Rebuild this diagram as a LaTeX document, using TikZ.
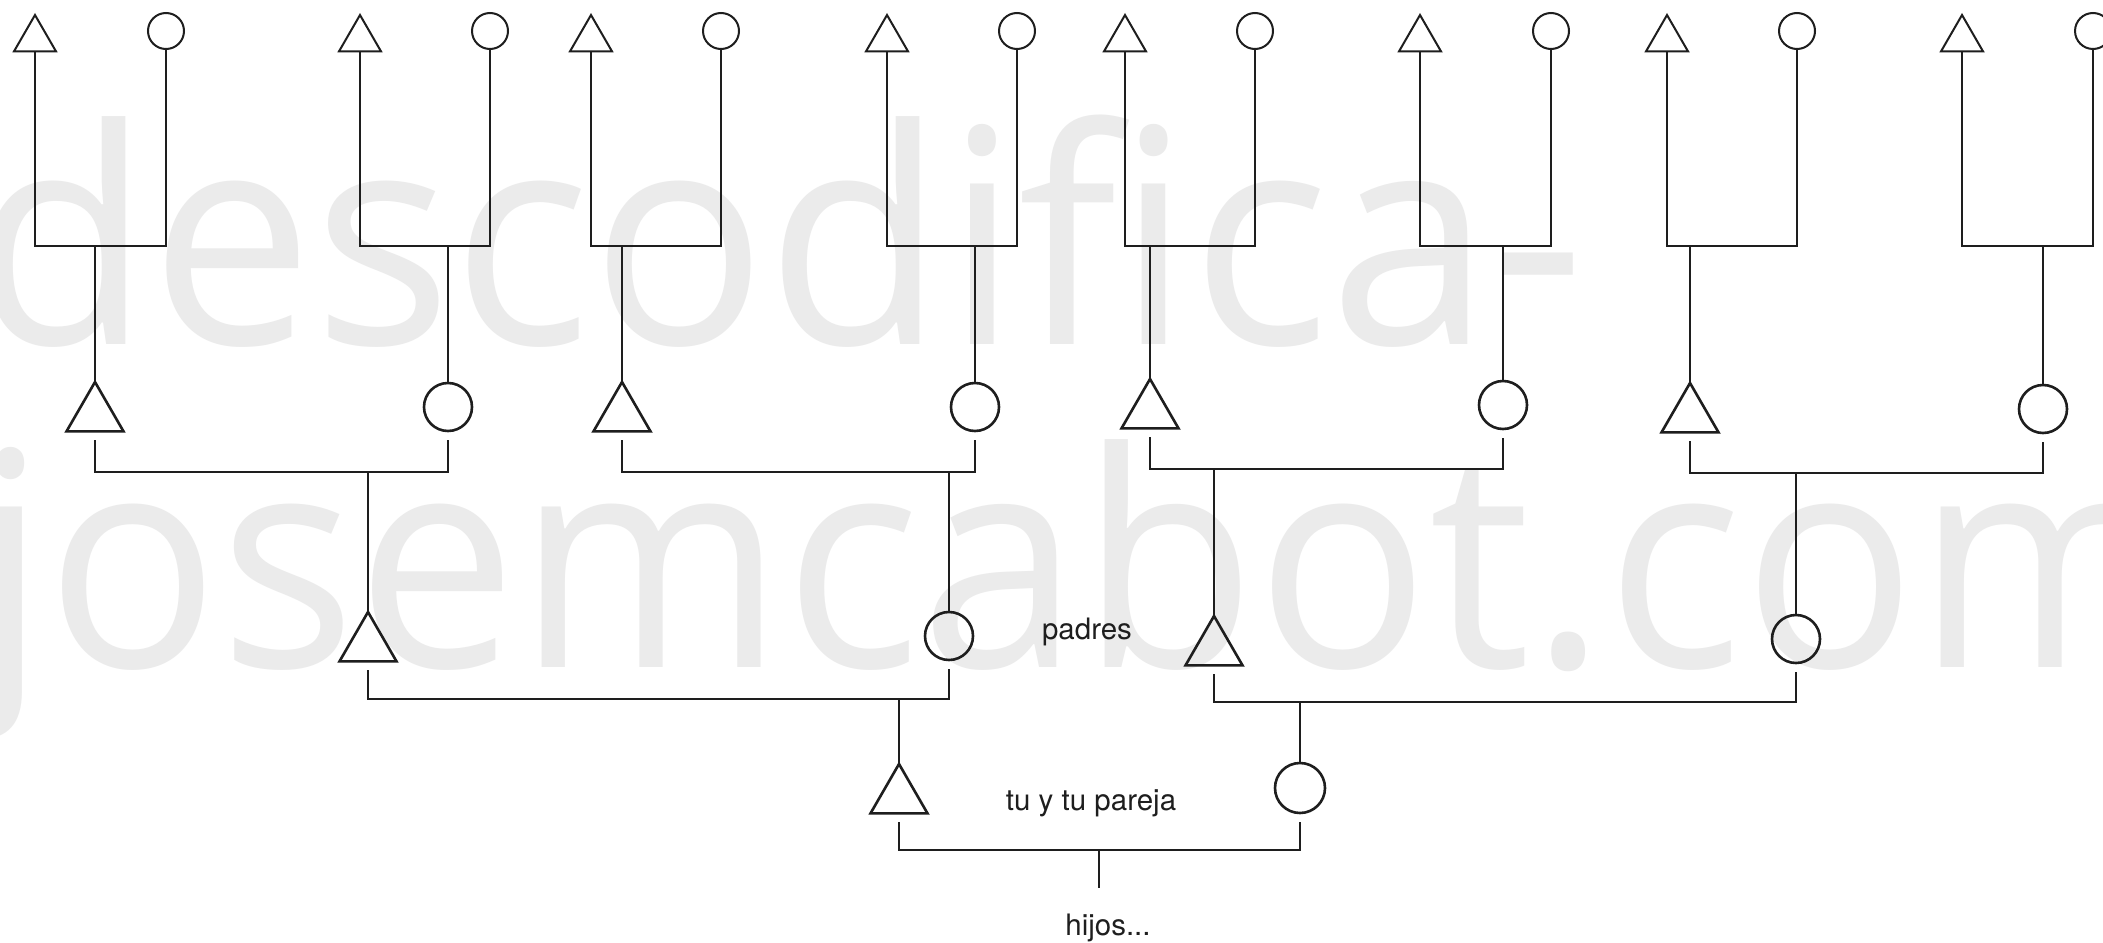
\documentclass[tikz,border=0pt]{standalone}
\usepackage{fontspec}
\setmainfont{TeX Gyre Heros}
\newfontfamily\wmfont{Open Sans}
\usetikzlibrary{shapes.geometric,calc}
\definecolor{wm}{RGB}{235,235,235}
\definecolor{ink}{RGB}{30,30,30}
\tikzset{
 male4/.style={regular polygon, regular polygon sides=3, draw=ink, line width=2pt, minimum size=48.5pt, inner sep=0pt, outer sep=0pt},
 fem4/.style={circle, draw=ink, line width=2pt, minimum size=36pt, inner sep=0pt, outer sep=0pt},
 male/.style={regular polygon, regular polygon sides=3, draw=ink, line width=2.6pt, minimum size=65.8pt, inner sep=0pt, outer sep=0pt},
 fem/.style={circle, draw=ink, line width=2.6pt, minimum size=48pt, inner sep=0pt, outer sep=0pt},
 link/.style={draw=ink, line width=1.8pt},
 lbl/.style={anchor=base, inner sep=0pt, text=ink, font=\fontsize{29.5}{30}\selectfont},
 wmark/.style={anchor=base west, inner sep=0pt, text=wm, font=\wmfont\fontsize{300}{300}\selectfont}
}
\begin{document}
\begin{tikzpicture}[x=1pt,y=-1pt]
\useasboundingbox (0,0) rectangle (2103,942);
\fill[white] (0,0) rectangle (2103,942);
\clip (0,0) rectangle (2103,942);
% watermark
\node[wmark] (wm1) at (-28,344) {\scalebox{0.97}[1]{descodifica-}};
\node[wmark] (wm2) at (-26,667) {\scalebox{0.956}[1]{josemcabot.com}};
% generation 4 (top)
\foreach \i/\tx/\cx/\mx in {1/35/166/95, 2/360/490/448, 3/591/721/622, 4/887/1017/975, 5/1125/1255/1150, 6/1420/1551/1503, 7/1667/1797/1690, 8/1962/2093/2043}{
  \node[male4] (t4\i) at (\tx,39.25) {};
  \node[fem4] (c4\i) at (\cx,31) {};
  \coordinate (m4\i) at (\mx,246);
  \draw[link] (t4\i.south) |- (m4\i) -| (c4\i.south);
}
% generation 3
\node[male] (t31) at (95,414.9) {};
\node[fem] (c31) at (448,407) {};
\node[male] (t32) at (622,414.9) {};
\node[fem] (c32) at (975,407) {};
\node[male] (t33) at (1150,411.9) {};
\node[fem] (c33) at (1503,405) {};
\node[male] (t34) at (1690,415.9) {};
\node[fem] (c34) at (2043,409) {};
\draw[link] (m41) -- (t31.north);
\draw[link] (m42) -- (c31.north);
\draw[link] (m43) -- (t32.north);
\draw[link] (m44) -- (c32.north);
\draw[link] (m45) -- (t33.north);
\draw[link] (m46) -- (c33.north);
\draw[link] (m47) -- (t34.north);
\draw[link] (m48) -- (c34.north);
\coordinate (m31) at (368,472);
\coordinate (m32) at (949,472);
\coordinate (m33) at (1214,469);
\coordinate (m34) at (1796,473);
\draw[link] ([yshift=-9pt]t31.south) |- (m31) -| ([yshift=-9pt]c31.south);
\draw[link] ([yshift=-9pt]t32.south) |- (m32) -| ([yshift=-9pt]c32.south);
\draw[link] ([yshift=-9pt]t33.south) |- (m33) -| ([yshift=-9pt]c33.south);
\draw[link] ([yshift=-9pt]t34.south) |- (m34) -| ([yshift=-9pt]c34.south);
% generation 2 (padres)
\node[male] (t21) at (368,644.9) {};
\node[fem] (c21) at (949,636) {};
\node[male] (t22) at (1214,648.9) {};
\node[fem] (c22) at (1796,639) {};
\draw[link] (m31) -- (t21.north);
\draw[link] (m32) -- (c21.north);
\draw[link] (m33) -- (t22.north);
\draw[link] (m34) -- (c22.north);
\coordinate (m21) at (899,699);
\coordinate (m22) at (1300,702);
\draw[link] ([yshift=-9pt]t21.south) |- (m21) -| ([yshift=-9pt]c21.south);
\draw[link] ([yshift=-9pt]t22.south) |- (m22) -| ([yshift=-9pt]c22.south);
% generation 1 (tu y tu pareja)
\node[male] (t1) at (899,796.9) {};
\node[fem, minimum size=50pt] (c1) at (1300,788) {};
\draw[link] (m21) -- (t1.north);
\draw[link] (m22) -- (c1.north);
\coordinate (m1) at (1099,850);
\coordinate (e1) at (1099,888);
\draw[link] ([yshift=-9pt]t1.south) |- (m1) -| ([yshift=-9pt]c1.south);
\draw[link] (m1) -- (e1);
% labels
\node[lbl] (padres) at (1087,639) {padres};
\node[lbl] (pareja) at (1091,810) {tu y tu pareja};
\node[lbl] (hijos) at (1108,935) {hijos...};
\end{tikzpicture}
\end{document}
